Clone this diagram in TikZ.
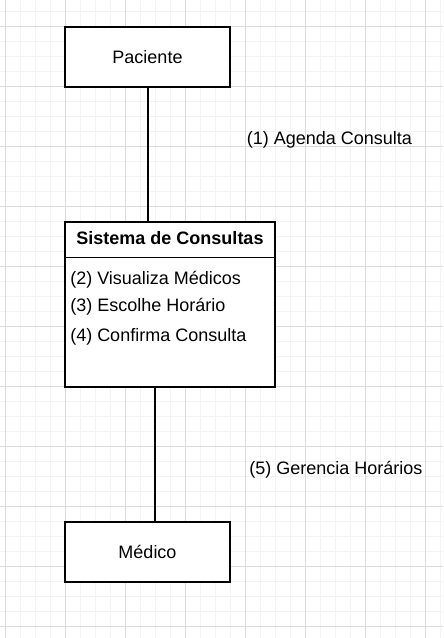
\documentclass[tikz,border=0pt]{standalone}
\usepackage{fontspec}
\setmainfont{Liberation Sans}
\usepackage{xcolor}
\definecolor{gridmajor}{RGB}{218, 218, 218}
\definecolor{gridminor}{RGB}{243, 243, 243}
\definecolor{inkblack}{RGB}{0, 0, 0}
\usepackage{tikz}
\usetikzlibrary{calc}

\begin{document}
\begin{tikzpicture}[x=0.75pt, y=-0.75pt,
    actor/.style={draw=inkblack, line width=1.1pt, fill=white, inner sep=0pt,
        minimum width=123.75pt, minimum height=45pt, font=\fontsize{13.5}{16}\selectfont},
    sysbox/.style={draw=inkblack, line width=1.1pt, fill=white, inner sep=0pt,
        minimum width=157.5pt, minimum height=123.75pt},
    txt/.style={inner sep=0pt, text=inkblack, font=\fontsize{13.5}{16}\selectfont},
    link/.style={draw=inkblack, line width=1.1pt}]
    \useasboundingbox (0,0) rectangle (443,638);
    \fill[white] (0,0) rectangle (443,638);

    % grid
    \foreach \gx in {5,20,...,440} \draw[gridminor, line width=0.75pt] (\gx,0) -- (\gx,638);
    \foreach \gy in {11.67,26.67,...,638} \draw[gridminor, line width=0.75pt] (0,\gy) -- (443,\gy);
    \foreach \gx in {5,65,...,425} \draw[gridmajor, line width=0.75pt] (\gx,0) -- (\gx,638);
    \foreach \gy in {26.67,86.67,...,630} \draw[gridmajor, line width=0.75pt] (0,\gy) -- (443,\gy);

    \node[actor] (paciente) at (147.5, 57) {Paciente};
    \node[sysbox] (sistema) at (170, 304.5) {};
    \node[actor] (medico) at (147.5, 552) {Médico};

    \draw[link] ($(sistema.north west)+(0,36)$) -- ($(sistema.north east)+(0,36)$);
    \node[txt, font=\fontsize{13.5}{16}\selectfont\bfseries] (titulo) at (170, 238.5) {Sistema de Consultas};
    \node[txt, anchor=west] (passo2) at (70, 280) {(2) Visualiza Médicos};
    \node[txt, anchor=west] (passo3) at (70, 307) {(3) Escolhe Horário};
    \node[txt, anchor=west] (passo4) at (70, 337) {(4) Confirma Consulta};

    \coordinate (cima) at (148, 0);
    \coordinate (baixo) at (155, 0);
    \draw[link] (paciente.south -| cima) -- (sistema.north -| cima);
    \draw[link] (sistema.south -| baixo) -- (medico.north -| baixo);

    \node[txt, anchor=west] (agenda) at (246.5, 140) {(1) Agenda Consulta};
    \node[txt, anchor=west] (gerencia) at (249, 470) {(5) Gerencia Horários};
\end{tikzpicture}
\end{document}
